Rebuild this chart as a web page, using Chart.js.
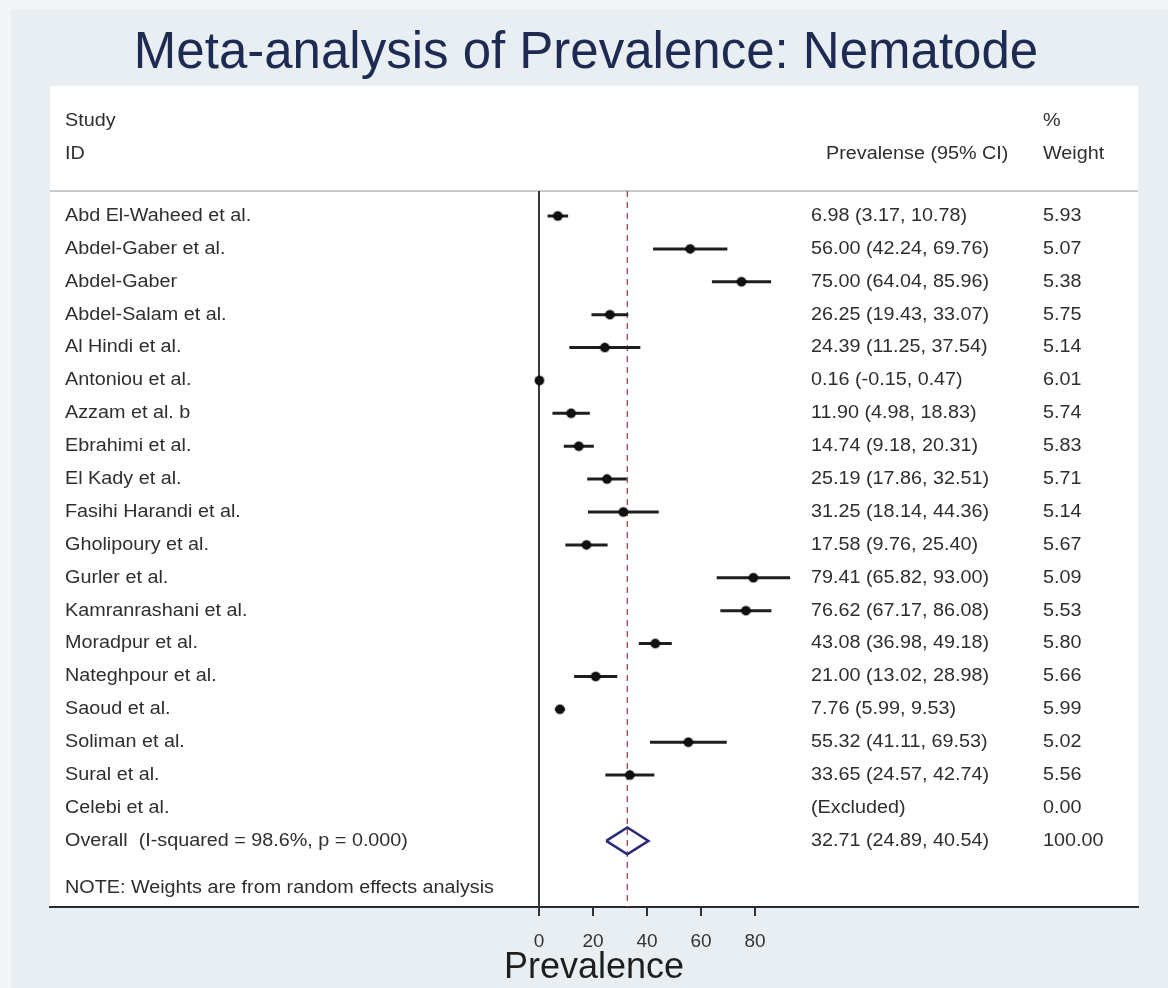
<!DOCTYPE html>
<html>
<head>
<meta charset="utf-8">
<script src="https://cdn.jsdelivr.net/npm/chart.js@4.4.1/dist/chart.umd.min.js"></script>
<style>
  html, body { margin: 0; padding: 0; background: #e8eef1; }
  canvas { display: block; }
</style>
</head>
<body>
<canvas id="c" width="1168" height="988"></canvas>
<script>
// ---- data ----
const studies = [
  "Abd El-Waheed et al.", "Abdel-Gaber et al.", "Abdel-Gaber", "Abdel-Salam et al.",
  "Al Hindi et al.", "Antoniou et al.", "Azzam et al. b", "Ebrahimi et al.",
  "El Kady et al.", "Fasihi Harandi et al.", "Gholipoury et al.", "Gurler et al.",
  "Kamranrashani et al.", "Moradpur et al.", "Nateghpour et al.", "Saoud et al.",
  "Soliman et al.", "Sural et al.", "Celebi et al."
];
const estimates = [6.98, 56.00, 75.00, 26.25, 24.39, 0.16, 11.90, 14.74, 25.19, 31.25, 17.58, 79.41, 76.62, 43.08, 21.00, 7.76, 55.32, 33.65, null];
const lowerCI   = [3.17, 42.24, 64.04, 19.43, 11.25, -0.15, 4.98, 9.18, 17.86, 18.14, 9.76, 65.82, 67.17, 36.98, 13.02, 5.99, 41.11, 24.57, null];
const upperCI   = [10.78, 69.76, 85.96, 33.07, 37.54, 0.47, 18.83, 20.31, 32.51, 44.36, 25.40, 93.00, 86.08, 49.18, 28.98, 9.53, 69.53, 42.74, null];
const weights   = [5.93, 5.07, 5.38, 5.75, 5.14, 6.01, 5.74, 5.83, 5.71, 5.14, 5.67, 5.09, 5.53, 5.80, 5.66, 5.99, 5.02, 5.56, 0.00];
const overallLabel = "Overall  (I-squared = 98.6%, p = 0.000)";
const overallEst = 32.71;
const overallLower = 24.89;
const overallUpper = 40.54;
const overallWeight = 100.00;
const xTicks = [0, 20, 40, 60, 80];
const titleText = "Meta-analysis of Prevalence: Nematode";
const xAxisTitle = "Prevalence";
const headerStudy = ["Study", "ID"];
const headerCI = "Prevalense (95% CI)";
const headerWeight = ["%", "Weight"];
const noteText = "NOTE: Weights are from random effects analysis";

// ---- layout helpers (not data) ----
const X_MIN = -181.11, X_MAX = 221.85;
const Y_MIN = -3.953, Y_MAX = 21.01;
const HEADER_ROW = -0.76;
const overallRow = studies.length;
const FONT = "'Liberation Sans', Arial, Helvetica, sans-serif";

const datasets = [];
// header rule
datasets.push({ type: 'line', data: [{x: X_MIN, y: HEADER_ROW}, {x: X_MAX, y: HEADER_ROW}],
  borderColor: '#c6cacd', borderWidth: 2, pointRadius: 0, order: 5 });
// zero line
datasets.push({ type: 'line', data: [{x: 0, y: HEADER_ROW}, {x: 0, y: Y_MAX}],
  borderColor: '#3a3a3a', borderWidth: 2, pointRadius: 0, order: 4 });
// overall dashed line
datasets.push({ type: 'line', data: [{x: overallEst, y: HEADER_ROW}, {x: overallEst, y: Y_MAX}],
  borderColor: '#a8454f', borderWidth: 1.3, borderDash: [6, 5], pointRadius: 0, order: 4 });
// CI lines
studies.forEach((s, i) => {
  if (estimates[i] === null) return;
  datasets.push({ type: 'line', data: [{x: lowerCI[i], y: i}, {x: upperCI[i], y: i}],
    borderColor: '#1e1e1e', borderWidth: 3, pointRadius: 0, order: 3 });
});
// point estimates
datasets.push({ type: 'scatter',
  data: studies.map((s, i) => estimates[i] === null ? null : {x: estimates[i], y: i}).filter(p => p),
  backgroundColor: '#111', borderColor: 'rgba(0,0,0,0.3)', borderWidth: 2,
  pointRadius: 4.5, pointStyle: 'circle', order: 1 });
// overall diamond
const dh = 0.41;
datasets.push({ type: 'line', data: [
  {x: overallLower, y: overallRow}, {x: overallEst, y: overallRow - dh},
  {x: overallUpper, y: overallRow}, {x: overallEst, y: overallRow + dh},
  {x: overallLower, y: overallRow}],
  borderColor: '#2a2a78', borderWidth: 2.5, pointRadius: 0, tension: 0, order: 2 });

const bgPlugin = {
  id: 'bg',
  beforeDraw(chart) {
    const ctx = chart.ctx, a = chart.chartArea;
    ctx.save();
    ctx.fillStyle = '#f3f6f7';
    ctx.fillRect(0, 0, chart.width, chart.height);
    ctx.fillStyle = '#e8eef1';
    ctx.fillRect(11, 9, chart.width - 11, chart.height - 9);
    ctx.fillStyle = '#ffffff';
    ctx.fillRect(a.left, a.top, a.right - a.left, a.bottom - a.top);
    ctx.restore();
  }
};

function stretchText(ctx, s, x, y) {
  ctx.save();
  ctx.translate(x, y);
  ctx.scale(1.13, 1);
  ctx.fillText(s, 0, 0);
  ctx.restore();
}

const textPlugin = {
  id: 'texts',
  afterDraw(chart) {
    const ctx = chart.ctx, ys = chart.scales.y;
    ctx.save();
    // title
    ctx.fillStyle = '#1d2a52';
    ctx.font = "51px " + FONT;
    ctx.textAlign = 'center';
    ctx.textBaseline = 'middle';
    ctx.fillText(titleText, 586, 54);
    // body text
    ctx.fillStyle = '#2e2e2e';
    ctx.font = "17.5px " + FONT;
    ctx.textAlign = 'left';
    const colName = 65, colCI = 811, colW = 1043;
    stretchText(ctx, headerStudy[0], colName, ys.getPixelForValue(-2.89));
    stretchText(ctx, headerStudy[1], colName, ys.getPixelForValue(-1.885));
    stretchText(ctx, headerCI, 826, ys.getPixelForValue(-1.885));
    stretchText(ctx, headerWeight[0], colW, ys.getPixelForValue(-2.89));
    stretchText(ctx, headerWeight[1], colW, ys.getPixelForValue(-1.885));
    studies.forEach((s, i) => {
      const y = ys.getPixelForValue(i);
      stretchText(ctx, s, colName, y);
      const ci = estimates[i] === null ? "(Excluded)" :
        estimates[i].toFixed(2) + " (" + lowerCI[i].toFixed(2) + ", " + upperCI[i].toFixed(2) + ")";
      stretchText(ctx, ci, colCI, y);
      stretchText(ctx, weights[i].toFixed(2), colW, y);
    });
    const yo = ys.getPixelForValue(overallRow);
    stretchText(ctx, overallLabel, colName, yo);
    stretchText(ctx, overallEst.toFixed(2) + " (" + overallLower.toFixed(2) + ", " + overallUpper.toFixed(2) + ")", colCI, yo);
    stretchText(ctx, overallWeight.toFixed(2), colW, yo);
    stretchText(ctx, noteText, colName, ys.getPixelForValue(20.43));
    ctx.restore();
  }
};

new Chart(document.getElementById('c'), {
  data: { datasets },
  options: {
    responsive: false,
    animation: false,
    devicePixelRatio: 1,
    layout: { padding: { left: 50, right: 30, top: 86, bottom: 0 } },
    plugins: { legend: { display: false }, tooltip: { enabled: false }, title: { display: false } },
    scales: {
      x: {
        type: 'linear', min: X_MIN, max: X_MAX, position: 'bottom',
        afterBuildTicks(scale) { scale.ticks = xTicks.map(v => ({ value: v })); },
        afterFit(scale) { scale.height = 81; },
        grid: { drawOnChartArea: false, drawTicks: true, tickLength: 9, color: '#333', lineWidth: 2 },
        border: { display: true, color: '#2a2a2a', width: 2 },
        ticks: { color: '#333', font: { family: FONT, size: 19 }, padding: 14, maxRotation: 0, autoSkip: false },
        title: { display: true, text: xAxisTitle, color: '#1e1e1e', font: { family: FONT, size: 36 }, padding: { top: 0, bottom: -2 } }
      },
      y: {
        type: 'linear', min: Y_MIN, max: Y_MAX, reverse: true, display: false
      }
    }
  },
  plugins: [bgPlugin, textPlugin]
});
</script>
</body>
</html>
